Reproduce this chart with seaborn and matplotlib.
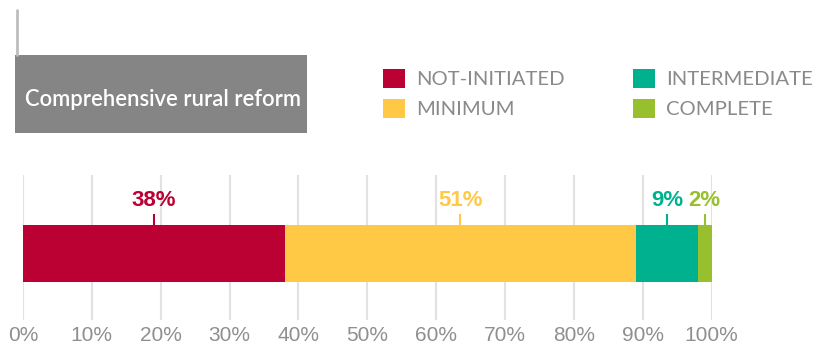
import matplotlib
matplotlib.use("Agg")
import matplotlib.pyplot as plt
import seaborn as sns
import pandas as pd
import numpy as np
from matplotlib.patches import Rectangle, Patch
from matplotlib.lines import Line2D

# ---- data ----
category = "Comprehensive rural reform"
levels = ["NOT-INITIATED", "MINIMUM", "INTERMEDIATE", "COMPLETE"]
values = [38, 51, 9, 2]
colors = ["#BB0034", "#FFC845", "#00B18F", "#97BF2E"]
ticks = [0, 10, 20, 30, 40, 50, 60, 70, 80, 90, 100]
tick_labels = [f"{t}%" for t in ticks]

sns.set_theme(style="white")
plt.rcParams["font.family"] = ["Lato", "DejaVu Sans"]

fig = plt.figure(figsize=(8.18, 3.53), dpi=100)
ax = fig.add_axes([0.028, 0.093, 0.842, 0.411])

cum = np.cumsum(values)
starts = cum - np.array(values)
df = pd.DataFrame({"level": levels, "cum": cum, "cat": [category] * len(levels)})

# stacked via cumulative totals drawn largest first
for i in reversed(range(len(levels))):
    sns.barplot(data=df.iloc[[i]], x="cum", y="cat", color=colors[i],
                orient="h", width=0.47, ax=ax, saturation=1, linewidth=0)

ax.set_xlim(0, 100)
ax.set_ylim(0.55, -0.65)
ax.set_xticks(ticks)
ax.set_xticklabels(tick_labels, fontsize=15, color="#8f8f8f",
                   family=["Liberation Sans", "DejaVu Sans"])
ax.set_yticks([])
ax.set_xlabel("")
ax.set_ylabel("")
ax.tick_params(axis="x", length=0, pad=4)
for s in ax.spines.values():
    s.set_visible(False)
ax.grid(axis="x", color="#e2e2e2", linewidth=1.5)
ax.set_axisbelow(True)

# value labels with small leader ticks
for v, s0, c in zip(values, starts, colors):
    xc = s0 + v / 2
    ax.plot([xc, xc], [-0.235, -0.33], color=c, lw=1.5, solid_capstyle="butt")
    ax.text(xc, -0.355, f"{v}%", color=c, ha="center", va="bottom",
            fontsize=16, fontweight="bold",
            family=["Liberation Sans", "DejaVu Sans"])

# title box
fig.add_artist(Line2D([0.0208, 0.0208], [0.844, 0.972], color="#bdbdbd", lw=2,
                      transform=fig.transFigure))
fig.add_artist(Rectangle((0.0183, 0.623), 0.357, 0.221, transform=fig.transFigure,
                         facecolor="#858585", edgecolor="none"))
fig.text(0.0306, 0.7195, category, color="white", fontsize=15.8,
         fontweight="semibold", ha="left", va="center")

# legend
handles = [Patch(facecolor=c, edgecolor="none", label=l) for c, l in zip(colors, levels)]
leg = fig.legend(handles=handles, ncol=2, loc="upper left",
                 bbox_to_anchor=(0.468, 0.805), frameon=False,
                 fontsize=14.6, handlelength=1.1, handleheight=1.1,
                 handletextpad=0.55, columnspacing=3.35, labelspacing=0.5,
                 borderaxespad=0, borderpad=0)
for t in leg.get_texts():
    t.set_color("#8a8a8a")

fig.savefig("out.png", dpi=100)
